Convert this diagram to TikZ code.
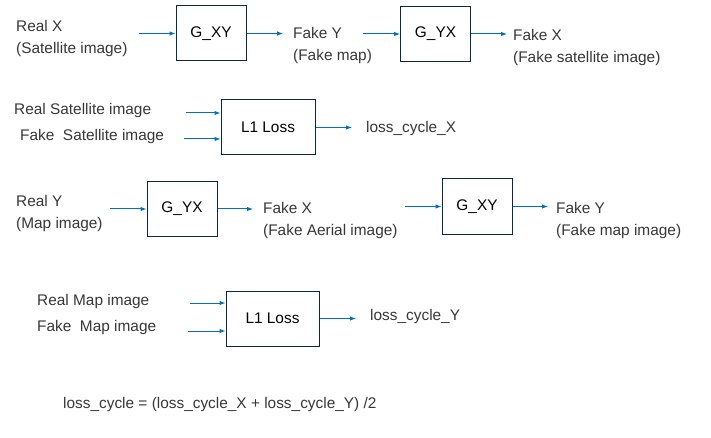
\documentclass[tikz,border=0pt]{standalone}
\usepackage{fontspec}
\setmainfont{Liberation Sans}
\usetikzlibrary{arrows.meta}
\definecolor{arrowblue}{RGB}{0,112,192}
\definecolor{boxline}{RGB}{14,40,65}
\definecolor{txtgray}{RGB}{55,55,55}
\tikzset{
  genbox/.style={draw=boxline, line width=1pt, minimum width=70pt, minimum height=55pt, inner sep=0pt, text=black},
  lossbox/.style={genbox, minimum width=94pt},
  lab/.style={anchor=west, align=left, inner sep=0pt, yshift=-1.5pt, text=txtgray},
  arr/.style={draw=arrowblue, line width=1pt, -{Latex[length=6pt,width=4.5pt]}},
}
\begin{document}
\begin{tikzpicture}[x=1pt,y=-1pt,font=\fontsize{15.4}{22}\selectfont]
            \useasboundingbox (0,0) rectangle (711,438);

            % cycle X -> Y -> X
            \node[lab] (realX) at (16,37.5) {Real X\\(Satellite image)};
            \node[genbox] (gxyA) at (211,33.5) {G\_XY};
            \node[lab] (fakeYA) at (293,44) {Fake Y\\(Fake map)};
            \node[genbox] (gyxA) at (435.5,34) {G\_YX};
            \node[lab] (fakeXA) at (513,46.5) {Fake X\\(Fake satellite image)};
            \coordinate (inA) at (139,33.5);
            \coordinate (outA) at (283,33.5);
            \coordinate (inB) at (363,34);
            \coordinate (outB) at (507,34);
            \draw[arr] (inA) -- (gxyA.west);
            \draw[arr] (gxyA.east) -- (outA);
            \draw[arr] (inB) -- (gyxA.west);
            \draw[arr] (gyxA.east) -- (outB);

            % L1 loss for X
            \node[lab] (realSat) at (14,109) {Real Satellite image};
            \node[lab] (fakeSat) at (20,135) {Fake\ \ Satellite image};
            \node[lossbox] (lossX) at (268,127.5) {L1 Loss};
            \node[lab] (lossXout) at (366,127) {loss\_cycle\_X};
            \coordinate (inRS) at (186,113);
            \coordinate (inFS) at (184,139);
            \coordinate (outLX) at (352,127.5);
            \draw[arr] (inRS) -- (inRS -| lossX.west);
            \draw[arr] (inFS) -- (inFS -| lossX.west);
            \draw[arr] (lossX.east) -- (outLX);

            % cycle Y -> X -> Y
            \node[lab] (realY) at (16,212) {Real Y\\(Map image)};
            \node[genbox] (gyxB) at (182,209) {G\_YX};
            \node[lab] (fakeXB) at (263,219) {Fake X\\(Fake Aerial image)};
            \node[genbox] (gxyB) at (477,206.5) {G\_XY};
            \node[lab] (fakeYB) at (556,219) {Fake Y\\(Fake map image)};
            \coordinate (inC) at (110,209);
            \coordinate (outC) at (253,209);
            \coordinate (inD) at (405,206.5);
            \coordinate (outD) at (548,206.5);
            \draw[arr] (inC) -- (gyxB.west);
            \draw[arr] (gyxB.east) -- (outC);
            \draw[arr] (inD) -- (gxyB.west);
            \draw[arr] (gxyB.east) -- (outD);

            % L1 loss for Y
            \node[lab] (realMap) at (37,300) {Real Map image};
            \node[lab] (fakeMap) at (37,326) {Fake\ \ Map image};
            \node[lossbox, minimum width=93pt] (lossY) at (272.5,318.5) {L1 Loss};
            \node[lab] (lossYout) at (370,315) {loss\_cycle\_Y};
            \coordinate (inRM) at (190,303);
            \coordinate (inFM) at (188,331);
            \coordinate (outLY) at (356,318.5);
            \draw[arr] (inRM) -- (inRM -| lossY.west);
            \draw[arr] (inFM) -- (inFM -| lossY.west);
            \draw[arr] (lossY.east) -- (outLY);

            \node[lab] (total) at (63,403) {loss\_cycle = (loss\_cycle\_X + loss\_cycle\_Y) /2};

\end{tikzpicture}
\end{document}
